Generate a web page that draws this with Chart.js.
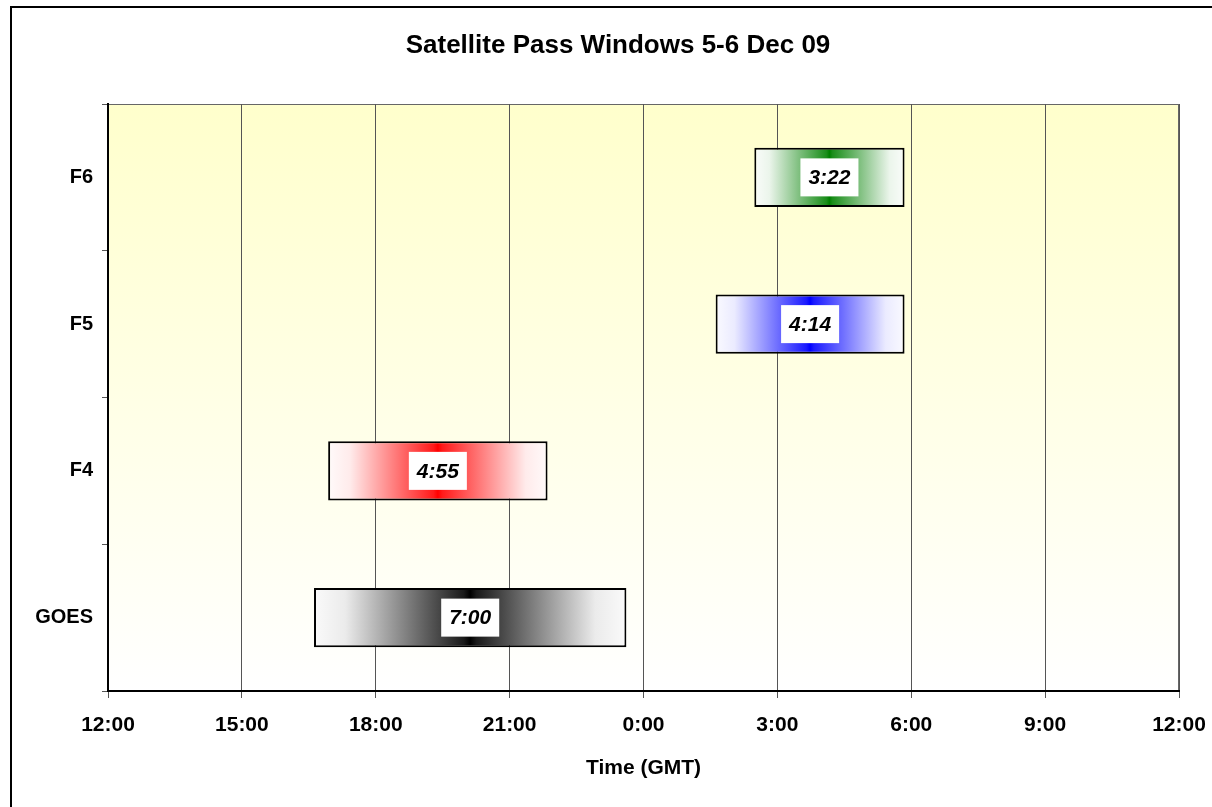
<!DOCTYPE html>
<html>
<head>
<meta charset="utf-8">
<script src="https://cdn.jsdelivr.net/npm/chart.js@4"></script>
<style>
  html, body { margin: 0; padding: 0; background: #fff; }
  #wrap { width: 1212px; height: 807px; }
</style>
</head>
<body>
<div id="wrap"><canvas id="passChart"></canvas></div>
<script>
// Pass windows (GMT, 5-6 Dec 09)
const chartTitle = 'Satellite Pass Windows 5-6 Dec 09';
const satellites = ['F6', 'F5', 'F4', 'GOES'];
const passStart = ['2:29', '1:37', '16:56', '16:37'];
const passEnd = ['5:51', '5:51', '21:51', '23:37'];
const passColors = ['#008000', '#0000ff', '#ff0000', '#000000'];
const hourTicks = ['12:00', '15:00', '18:00', '21:00', '0:00', '3:00', '6:00', '9:00', '12:00'];

const FONT = '"Liberation Sans", Arial, sans-serif';

// hours since 12:00 on the first day
function toHours(t) {
  const [h, m] = t.split(':').map(Number);
  return (h - 12 + 24) % 24 + m / 60;
}

function duration(i) {
  const mins = Math.round((toHours(passEnd[i]) - toHours(passStart[i])) * 60);
  return Math.floor(mins / 60) + ':' + String(mins % 60).padStart(2, '0');
}

function hexToRgb(hex) {
  const n = parseInt(hex.slice(1), 16);
  return [(n >> 16) & 255, (n >> 8) & 255, n & 255];
}

function mix(rgb, t) {
  const c = rgb.map(v => Math.round(255 + (v - 255) * t));
  return 'rgb(' + c.join(',') + ')';
}

// white at both ends, full colour in the middle
const fadeStops = [[0, 0.02], [0.1, 0.08], [0.25, 0.4], [0.4, 0.72], [0.48, 0.9], [0.5, 1]];

function barGradient(context) {
  const chart = context.chart;
  const i = context.dataIndex;
  if (!chart.chartArea || i === undefined) return '#ffffff';
  const x = chart.scales.x;
  const x0 = x.getPixelForValue(toHours(passStart[i]));
  const x1 = x.getPixelForValue(toHours(passEnd[i]));
  const rgb = hexToRgb(passColors[i]);
  const g = chart.ctx.createLinearGradient(x0, 0, x1, 0);
  fadeStops.forEach(([p, t]) => {
    g.addColorStop(p, mix(rgb, t));
    g.addColorStop(1 - p, mix(rgb, t));
  });
  return g;
}

const framePlugin = {
  id: 'frame',
  beforeDraw(chart) {
    const { ctx, chartArea: a } = chart;
    ctx.save();
    // outer frame
    ctx.strokeStyle = '#000';
    ctx.lineWidth = 2;
    ctx.strokeRect(11, 7, 1400, 1000);
    // plot area fill
    const g = ctx.createLinearGradient(0, a.top, 0, a.bottom);
    g.addColorStop(0, '#ffffcc');
    g.addColorStop(1, '#ffffff');
    ctx.fillStyle = g;
    ctx.fillRect(a.left, a.top, a.right - a.left, a.bottom - a.top);
    ctx.strokeStyle = '#666';
    ctx.lineWidth = 1;
    ctx.strokeRect(a.left + 0.5, a.top + 0.5, a.right - a.left - 1, a.bottom - a.top - 1);
    // title
    ctx.fillStyle = '#000';
    ctx.font = 'bold 26px ' + FONT;
    ctx.textAlign = 'center';
    ctx.textBaseline = 'middle';
    ctx.fillText(chartTitle, 618, 46);
    ctx.restore();
  },
  afterDatasetsDraw(chart) {
    const { ctx } = chart;
    const meta = chart.getDatasetMeta(0);
    ctx.save();
    ctx.font = 'italic bold 21px ' + FONT;
    ctx.textAlign = 'center';
    ctx.textBaseline = 'middle';
    meta.data.forEach((bar, i) => {
      const cx = (bar.x + bar.base) / 2;
      const text = duration(i);
      const w = ctx.measureText(text).width + 16;
      ctx.fillStyle = '#fff';
      ctx.fillRect(cx - w / 2, bar.y - 19, w, 38);
      ctx.fillStyle = '#000';
      ctx.fillText(text, cx, bar.y + 1);
    });
    ctx.restore();
  }
};

new Chart(document.getElementById('passChart'), {
  type: 'bar',
  data: {
    labels: satellites,
    datasets: [{
      data: satellites.map((s, i) => [toHours(passStart[i]), toHours(passEnd[i])]),
      backgroundColor: barGradient,
      borderColor: '#000',
      borderWidth: 2,
      borderSkipped: false,
      categoryPercentage: 1,
      barPercentage: 0.405
    }]
  },
  options: {
    indexAxis: 'y',
    responsive: true,
    maintainAspectRatio: false,
    animation: false,
    layout: { padding: { top: 104, left: 0, right: 33, bottom: 0 } },
    plugins: {
      legend: { display: false },
      tooltip: { enabled: false }
    },
    scales: {
      x: {
        type: 'linear',
        min: 0,
        max: 24,
        afterFit(scale) {
          scale.height = 116;
          scale.paddingLeft = 0;
          scale.paddingRight = 0;
        },
        border: { color: '#000', width: 2 },
        grid: { color: '#555', lineWidth: 1, tickLength: 7, tickColor: '#555' },
        ticks: {
          stepSize: 3,
          padding: 15,
          color: '#000',
          font: { family: FONT, size: 21, weight: 'bold' },
          callback: (v, i) => hourTicks[i]
        },
        title: {
          display: true,
          text: 'Time (GMT)',
          color: '#000',
          font: { family: FONT, size: 21, weight: 'bold' },
          padding: 26
        }
      },
      y: {
        afterFit(scale) { scale.width = 108; },
        border: { color: '#000', width: 2 },
        grid: { drawOnChartArea: false, tickLength: 6, tickColor: '#555', offset: true },
        ticks: {
          padding: 9,
          color: '#000',
          font: { family: FONT, size: 20, weight: 'bold' }
        }
      }
    }
  },
  plugins: [framePlugin]
});
</script>
</body>
</html>
